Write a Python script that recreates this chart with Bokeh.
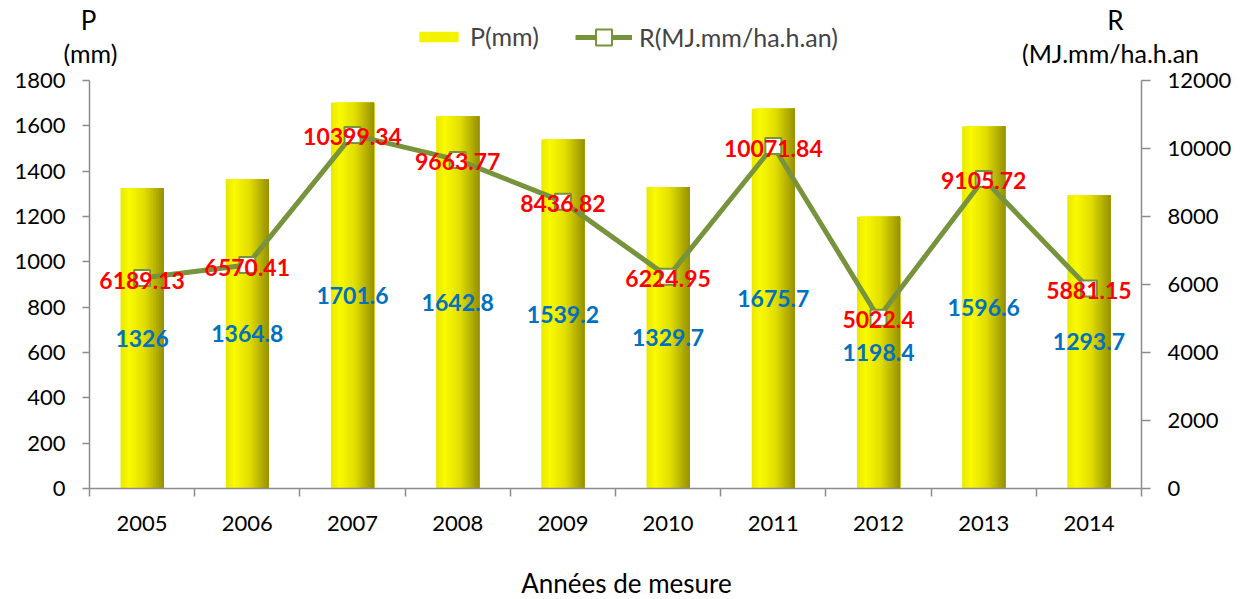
from bokeh.plotting import figure
from bokeh.layouts import column
from bokeh.models import (ColumnDataSource, Range1d, LinearAxis, FixedTicker,
                          Legend, LegendItem, Label)
from bokeh.transform import dodge
from bokeh.core.properties import value
from bokeh.embed import file_html
from bokeh.resources import INLINE

# Annual rainfall P (mm) and rainfall erosivity R (MJ.mm/ha.h.an)
years = ["2005", "2006", "2007", "2008", "2009", "2010", "2011", "2012", "2013", "2014"]
P = [1326, 1364.8, 1701.6, 1642.8, 1539.2, 1329.7, 1675.7, 1198.4, 1596.6, 1293.7]
R = [6189.13, 6570.41, 10399.34, 9663.77, 8436.82, 6224.95, 10071.84, 5022.4, 9105.72, 5881.15]
p_ticks = [0, 200, 400, 600, 800, 1000, 1200, 1400, 1600, 1800]
r_ticks = [0, 2000, 4000, 6000, 8000, 10000, 12000]

FONT = "Lato"
GREY = "#8c8c8c"
OLIVE = "#77933C"
W = 1244
TOP_H, MAIN_H, BOT_H = 66, 499, 34

idx = list(range(len(years)))
src = ColumnDataSource(dict(
    idx=idx,
    P=P,
    P_mid=[v / 2 for v in P],
    P_lbl=[f"{v:g}" for v in P],
    R=R,
    R_lbl=[str(v) for v in R],
))

# ---------------- main chart ----------------
p = figure(width=W, height=MAIN_H, output_backend="svg", toolbar_location=None,
           x_range=Range1d(-0.5, len(years) - 0.5), y_range=Range1d(0, 1800),
           min_border_left=89, min_border_right=103, min_border_top=14,
           min_border_bottom=77, outline_line_color=None, x_axis_type=None,
           y_axis_type=None)
p.extra_y_ranges = {"r": Range1d(0, 12000)}

xaxis = LinearAxis(ticker=FixedTicker(ticks=idx, minor_ticks=[i - 0.5 for i in range(len(years) + 1)]),
                   major_label_overrides={i: y for i, y in enumerate(years)})
yl = LinearAxis(ticker=FixedTicker(ticks=p_ticks))
yr = LinearAxis(ticker=FixedTicker(ticks=r_ticks), y_range_name="r")
for ax in (xaxis, yl, yr):
    ax.axis_line_color = GREY
    ax.axis_line_width = 1.5
    ax.major_tick_line_color = GREY
    ax.major_tick_line_width = 1.5
    ax.minor_tick_line_color = GREY
    ax.minor_tick_line_width = 1.5
    ax.major_label_text_font = FONT
    ax.major_label_text_font_size = "22px"
    ax.major_label_text_color = "black"
    ax.major_tick_in = 0
    ax.minor_tick_in = 0
xaxis.major_tick_out = 0
xaxis.minor_tick_out = 8
xaxis.major_label_standoff = 19
yl.major_tick_out = 7
yl.minor_tick_out = 0
yl.major_label_standoff = 17
yr.major_tick_out = 9
yr.minor_tick_out = 0
yr.major_label_standoff = 17
p.add_layout(xaxis, "below")
p.add_layout(yl, "left")
p.add_layout(yr, "right")

p.ygrid.ticker = FixedTicker(ticks=p_ticks)
p.ygrid.grid_line_color = GREY
p.ygrid.grid_line_width = 1.5
p.xgrid.visible = False

# gradient-shaded columns: each slice runs from its left edge to the bar's right
# edge and the next one is painted over it, giving a seamless yellow-to-olive ramp
stops = [(0.0, (232, 232, 0)), (0.2, (250, 250, 0)), (0.55, (226, 222, 0)), (1.0, (150, 145, 0))]


def shade(t):
    for (t0, c0), (t1, c1) in zip(stops[:-1], stops[1:]):
        if t0 <= t <= t1:
            f = (t - t0) / (t1 - t0)
            return "#%02x%02x%02x" % tuple(int(round(a + (b - a) * f)) for a, b in zip(c0, c1))
    return "#%02x%02x%02x" % stops[-1][1]


BAR_W = 0.41
N = 28
sw = BAR_W / N
for k in range(N):
    left = -BAR_W / 2 + sw * k
    width = BAR_W - sw * k
    p.vbar(x=dodge("idx", left + width / 2), top="P", width=width, source=src,
           fill_color=shade((k + 0.5) / N), line_color=None)

# erosivity line with square markers
p.line("idx", "R", source=src, y_range_name="r", line_color=OLIVE, line_width=5)
p.scatter("idx", "R", source=src, y_range_name="r", marker="square", size=16,
          fill_color="white", line_color=OLIVE, line_width=2)

# value labels
p.text("idx", "P_mid", text="P_lbl", source=src, text_font=value(FONT),
       text_font_style="bold", text_font_size="23px", text_color="#0070C0",
       text_align="center", text_baseline="middle")
p.text("idx", "R", text="R_lbl", source=src, y_range_name="r", text_font=value(FONT),
       text_font_style="bold", text_font_size="23px", text_color="#ff0000",
       text_align="center", text_baseline="middle", y_offset=2)

# ---------------- header: legend and axis titles ----------------
top = figure(width=W, height=TOP_H, output_backend="svg", toolbar_location=None,
             x_range=Range1d(0, W), y_range=Range1d(TOP_H, 0), min_border=0,
             outline_line_color=None, x_axis_type=None, y_axis_type=None)
top.frame_align = False
top.xgrid.visible = False
top.ygrid.visible = False

# legend keys styled like the series of the main chart (kept outside the visible area)
key_bar = top.vbar(x=[-500], top=[0], width=1, fill_color=shade(0.3), line_color=None)
key_line = top.line(x=[-500, -499], y=[0, 0], line_color=OLIVE, line_width=5)
key_mark = top.scatter(x=[-500], y=[0], marker="square", size=16, fill_color="white",
                       line_color=OLIVE, line_width=2)
leg_kw = dict(orientation="horizontal", padding=0, margin=0, label_standoff=7,
              label_text_font=FONT, label_text_font_size="25px",
              border_line_color=None, background_fill_alpha=0)
# bar key: short box; line key: taller box so the square marker keeps its size
leg_p = Legend(items=[LegendItem(label="P(mm)", renderers=[key_bar])],
               location=(414, 15), glyph_width=49, glyph_height=13, **leg_kw)
leg_r = Legend(items=[LegendItem(label="R(MJ.mm/ha.h.an)", renderers=[key_line, key_mark])],
               location=(575, 9), glyph_width=57, glyph_height=40, **leg_kw)
top.add_layout(leg_p, "center")
top.add_layout(leg_r, "center")

title_kw = dict(text_font=FONT, text_font_size="26px", text_color="black",
                text_align="center", text_baseline="middle")
paren_kw = dict(title_kw, text_font_size="25px")
top.add_layout(Label(x=88, y=19, text="P", **title_kw))
top.add_layout(Label(x=90, y=52, text="(mm)", **paren_kw))
top.add_layout(Label(x=1115, y=19, text="R", **title_kw))
top.add_layout(Label(x=1110, y=52, text="(MJ.mm/ha.h.an", **paren_kw))

# ---------------- footer: x axis title ----------------
bot = figure(width=W, height=BOT_H, output_backend="svg", toolbar_location=None,
             x_range=Range1d(0, W), y_range=Range1d(BOT_H, 0), min_border=0,
             outline_line_color=None, x_axis_type=None, y_axis_type=None)
bot.frame_align = False
bot.xgrid.visible = False
bot.ygrid.visible = False
bot.add_layout(Label(x=626, y=17, text="Années de mesure", **title_kw))

layout = column(top, p, bot, spacing=0)
open("out.html", "w").write(file_html(layout, INLINE))
